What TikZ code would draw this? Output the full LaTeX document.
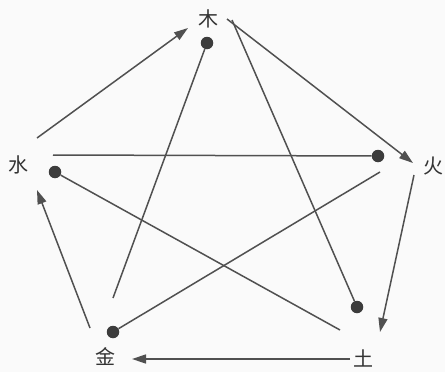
\documentclass[tikz,border=0pt]{standalone}
\usepackage{fontspec}
\newfontfamily\cjk{Noto Sans CJK SC}
\usetikzlibrary{arrows.meta}
\definecolor{wxline}{HTML}{505050}
\definecolor{wxdot}{HTML}{3C3C3C}
\definecolor{wxtext}{HTML}{333333}
\definecolor{wxpaper}{HTML}{FAFAFA}

\begin{document}
\begin{tikzpicture}[x=1pt, y=-1pt, >={Triangle[length=14pt,width=9pt]}]
  \tikzset{elem/.style={font=\cjk\fontsize{20}{20}\selectfont, text=wxtext, inner sep=0},
           kedot/.style={circle, fill=wxdot, minimum size=12.5pt, inner sep=0},
           flow/.style={->, draw=wxline, line width=1.5pt},
           ke/.style={draw=wxline, line width=1.5pt}}
  % paper
  \fill[wxpaper] (0,0) rectangle (445,372);
  \useasboundingbox (0,0) rectangle (445,372);
  % five elements
  \node[elem] (mu) at (208,19) {木};
  \node[elem] (huo) at (433,166) {火};
  \node[elem] (tu) at (363,358) {土};
  \node[elem] (jin) at (105,357) {金};
  \node[elem] (shui) at (19,165) {水};
  % dots of the restrained one
  \node[kedot] (mu-dot) at (207,43) {};
  \node[kedot] (huo-dot) at (378,156) {};
  \node[kedot] (tu-dot) at (357,307) {};
  \node[kedot] (jin-dot) at (113,332) {};
  \node[kedot] (shui-dot) at (55,172) {};
  % generating cycle
  \draw[flow] ([shift={(18,-27)}]shui.center) -- ([shift={(-20,9)}]mu.center);
  \draw[flow] ([shift={(19,0)}]mu.center) -- ([shift={(-20,-3)}]huo.center);
  \draw[flow] ([shift={(-19,9)}]huo.center) -- ([shift={(17,-26)}]tu.center);
  \draw[flow] ([shift={(-13,1)}]tu.center) -- ([shift={(27,2)}]jin.center);
  \draw[flow] ([shift={(-15,-29)}]jin.center) -- ([shift={(18,25)}]shui.center);
  % restraining star
  \draw[ke] ([shift={(24,1)}]mu.center) -- (tu-dot);
  \draw[ke] ([shift={(-53,6)}]huo.center) -- (jin-dot);
  \draw[ke] ([shift={(-23,-28)}]tu.center) -- (shui-dot);
  \draw[ke] ([shift={(8,-59)}]jin.center) -- (mu-dot);
  \draw[ke] ([shift={(34,-10)}]shui.center) -- (huo-dot);
\end{tikzpicture}
\end{document}
